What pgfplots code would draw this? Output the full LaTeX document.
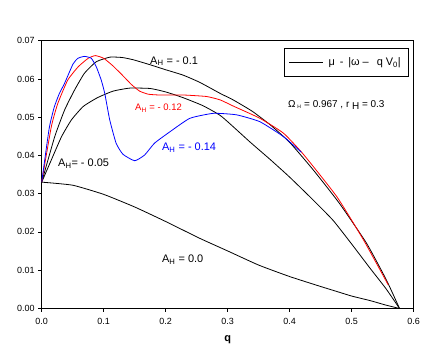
\documentclass[border=0pt]{standalone}
\usepackage{fontspec}
\setmainfont{Liberation Sans}
\usepackage{pgfplots}
\pgfplotsset{compat=1.18}
\begin{document}
\begin{tikzpicture}
\path[use as bounding box] (-41.7bp,-49.7bp) rectangle (394.3bp,308.3bp);
\begin{axis}[
  scale only axis, width=372bp, height=267.6bp,
  xmin=0, xmax=0.6, ymin=0, ymax=0.07,
  xtick={0,0.1,0.2,0.3,0.4,0.5,0.6},
  ytick={0,0.01,0.02,0.03,0.04,0.05,0.06,0.07},
  scaled y ticks=false, scaled x ticks=false,
  xticklabel style={/pgf/number format/fixed,/pgf/number format/fixed zerofill,/pgf/number format/precision=1, yshift=-3bp},
  yticklabel style={/pgf/number format/fixed,/pgf/number format/fixed zerofill,/pgf/number format/precision=2},
  /pgf/number format/assume math mode=true,
  tick label style={font=\fontsize{9}{10}\selectfont},
  tick align=outside, xtick pos=bottom, ytick pos=left,
  major tick length=3.5bp, tick style={black, line width=0.6pt},
  axis line style={line width=0.7pt},
  xlabel={\bfseries q}, xlabel style={font=\fontsize{11}{13}\selectfont, yshift=-4bp},
  legend style={at={(0.985,0.972)}, anchor=north east, draw=black, line width=0.6pt,
    inner xsep=5bp, inner ysep=7bp, font=\fontsize{11}{13}\selectfont},
  legend cell align=left,
  legend image code/.code={\draw[#1] (0bp,0bp) -- (34bp,0bp);},
  every axis plot/.append style={line width=0.8pt, smooth, tension=0.3},
]
\addlegendimage{black, line width=0.6pt}
\addlegendentry{\hspace{3bp}μ\, -\, |ω –\;\, q V\textsubscript{0}|}

% A_H = 0.0
\addplot[black] coordinates {
(0,0.0330)(0.05,0.0322)(0.1,0.0298)(0.15,0.0265)(0.2,0.0227)(0.255,0.0183)
(0.3,0.0150)(0.35,0.0113)(0.4,0.0083)(0.45,0.0057)(0.476,0.0044)(0.5,0.0032)
(0.53,0.0020)(0.556,0.0008)(0.576,0)
};
% A_H = -0.05
\addplot[black] coordinates {
(0,0.033)(0.0155,0.0388)(0.032,0.0449)(0.048,0.0493)(0.067,0.0528)(0.09,0.0551)
(0.115,0.0568)(0.142,0.0576)(0.175,0.0575)(0.2,0.0566)(0.228,0.0551)(0.26,0.0530)
(0.29,0.0502)(0.336,0.0435)(0.368,0.0390)(0.4,0.0343)(0.438,0.0283)(0.47,0.0230)
(0.5,0.0168)(0.53,0.0104)(0.555,0.0052)(0.577,0)
};
% A_H = -0.1
\addplot[black] coordinates {
(0,0.033)(0.021,0.0449)(0.037,0.0519)(0.053,0.0571)(0.069,0.0615)(0.088,0.0645)
(0.11,0.0657)(0.13,0.0656)(0.148,0.0650)(0.175,0.0637)(0.2,0.0624)(0.228,0.0610)
(0.255,0.0591)(0.288,0.0562)(0.309,0.0545)(0.34,0.0515)(0.37,0.0478)(0.4,0.0434)
(0.438,0.0362)(0.48,0.0275)(0.524,0.0170)(0.556,0.0074)(0.577,0)
};
% A_H = -0.12
\addplot[red] coordinates {
(0,0.033)(0.0155,0.0475)(0.026,0.0536)(0.042,0.0597)(0.059,0.0632)(0.075,0.0654)
(0.0865,0.0661)(0.1,0.0654)(0.115,0.0634)(0.13,0.0610)(0.145,0.0585)(0.158,0.0568)
(0.172,0.0560)(0.19,0.0558)(0.228,0.0558)(0.266,0.0554)(0.288,0.0545)(0.309,0.0529)
(0.352,0.0497)(0.39,0.0458)(0.422,0.0403)(0.476,0.0292)(0.519,0.0179)(0.559,0.0061)
};
% A_H = -0.14
\addplot[blue] coordinates {
(0,0.033)(0.012,0.0470)(0.02,0.0525)(0.028,0.0560)(0.037,0.0589)(0.0505,0.0639)(0.0585,0.0654)
(0.069,0.0659)(0.080,0.0654)(0.088,0.0632)(0.096,0.0597)(0.1016,0.0563)(0.1097,0.0493)
(0.120,0.0432)(0.131,0.0403)(0.150,0.0386)(0.166,0.0401)(0.182,0.0432)(0.207,0.0462)
(0.239,0.0497)(0.277,0.0510)(0.3145,0.0506)(0.352,0.0488)(0.39,0.0449)(0.419,0.0408)
};

\node[anchor=base west, inner sep=0, font=\fontsize{11}{13}\selectfont] at (axis cs:0.1747,0.0639) {A\textsubscript{H} = - 0.1};
\node[anchor=base west, inner sep=0, red, font=\fontsize{9.5}{11}\selectfont] at (axis cs:0.1505,0.0517) {A\textsubscript{H} = - 0.12};
\node[anchor=base west, inner sep=0, blue, font=\fontsize{11}{13}\selectfont] at (axis cs:0.194,0.0412) {A\textsubscript{H} = - 0.14};
\node[anchor=base west, inner sep=0, font=\fontsize{11}{13}\selectfont] at (axis cs:0.0263,0.0370) {A\textsubscript{H}= - 0.05};
\node[anchor=base west, inner sep=0, font=\fontsize{11}{13}\selectfont] at (axis cs:0.194,0.0119) {A\textsubscript{H} = 0.0};
\node[anchor=base west, inner sep=0, font=\fontsize{10}{12}\selectfont] at (axis cs:0.3973,0.0526) {Ω\,\textsubscript{\tiny H} = 0.967 , r \raisebox{-2.5bp}{H} = 0.3};
\end{axis}
\end{tikzpicture}
\end{document}
